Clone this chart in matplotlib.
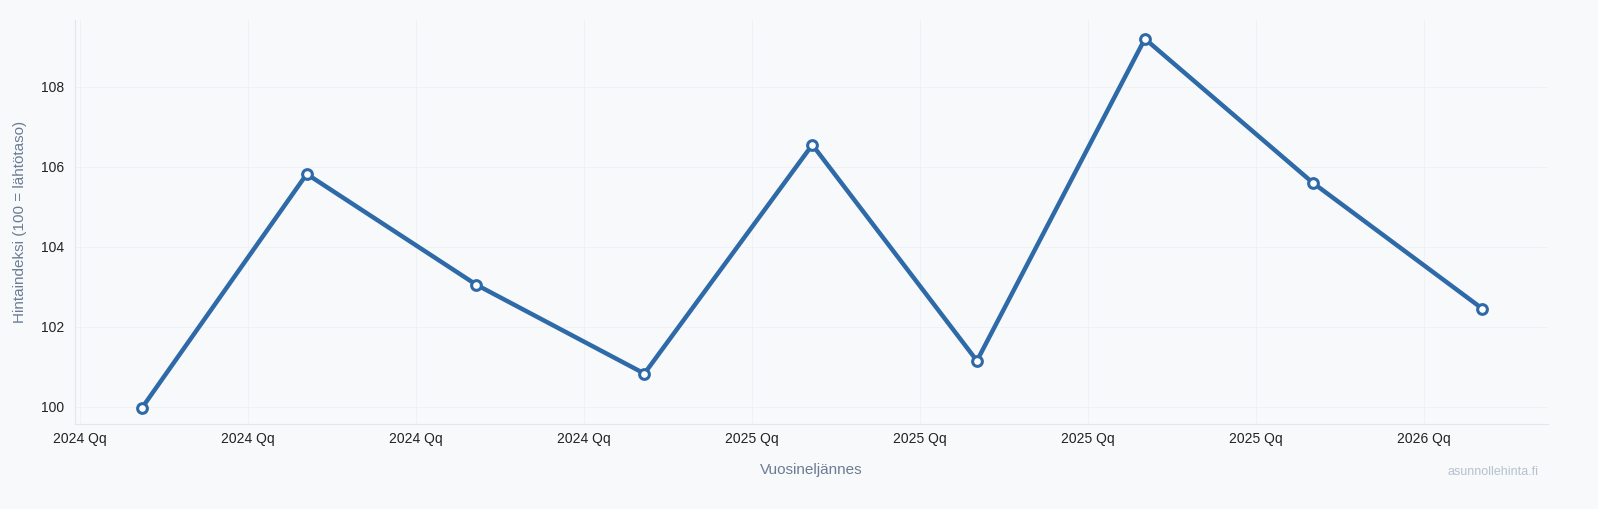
import matplotlib
matplotlib.use("Agg")
import matplotlib.pyplot as plt
plt.rcParams['font.family'] = ['Liberation Sans', 'DejaVu Sans']

tick_labels = ["2024 Qq","2024 Qq","2024 Qq","2024 Qq","2025 Qq","2025 Qq","2025 Qq","2025 Qq","2026 Qq"]
x_points = [0.37,1.35,2.36,3.36,4.36,5.34,6.34,7.34,8.35]
values = [99.98,105.82,103.05,100.83,106.55,101.15,109.2,105.6,102.45]

bg = "#f7f9fb"
fig = plt.figure(figsize=(15.98,5.09), dpi=100, facecolor=bg)
ax = fig.add_axes([75/1598, 1-424/509, (1548-75)/1598, (424-20)/509], facecolor=bg)
ax.plot(x_points, values, color="#2e6aa8", lw=3.2, marker="o", ms=7,
        mfc="white", mec="#2e6aa8", mew=2.2, zorder=3)
ax.set_xticks(range(len(tick_labels)))
ax.set_xticklabels(tick_labels, fontsize=10, color="#222222")
ax.set_yticks([100,102,104,106,108])
ax.tick_params(axis='y', labelsize=10, colors="#222222", length=0, pad=8)
ax.tick_params(axis='x', length=0, pad=6)
ax.set_xlim(-0.03, 8.74)
ax.set_ylim(99.57, 109.67)
ax.grid(True, color="#eef1f5", lw=0.7)
ax.set_axisbelow(True)
for s in ["top","right"]:
    ax.spines[s].set_visible(False)
for s in ["left","bottom"]:
    ax.spines[s].set_color("#e1e7ee")
ax.set_xlabel("Vuosineljännes", fontsize=11, color="#6b7c93", labelpad=12)
ax.set_ylabel("Hintaindeksi (100 = lähtötaso)", fontsize=11, color="#6b7c93", labelpad=10)
fig.text(1538/1598, 1-472/509, "asunnollehinta.fi", fontsize=9, color="#b8c2ce", ha="right", va="center")
fig.savefig("out.png", dpi=100, facecolor=bg)
